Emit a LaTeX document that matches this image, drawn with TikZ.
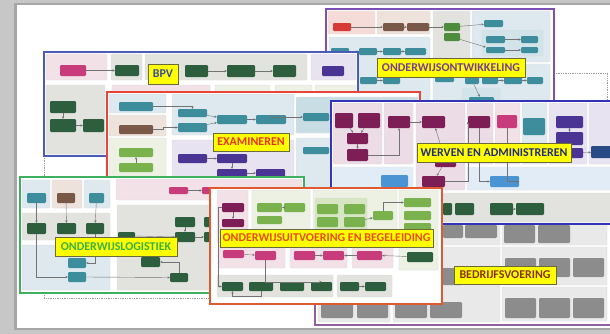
\documentclass[tikz,border=0pt]{standalone}
\usepackage{fontspec}
\newfontfamily\labfont{Carlito}
\usetikzlibrary{fit,arrows.meta}
% frame colours
\definecolor{cBPV}{HTML}{4A5CB8}
\definecolor{cONT}{HTML}{7B4FB5}
\definecolor{cEXA}{HTML}{E8443A}
\definecolor{cWER}{HTML}{3434B8}
\definecolor{cLOG}{HTML}{3FB060}
\definecolor{cUIT}{HTML}{E05A30}
\definecolor{cBED}{HTML}{9060A0}
% box colours
\definecolor{dgreen}{HTML}{2D5E3E}
\definecolor{teal}{HTML}{3D8D9C}
\definecolor{lgreen}{HTML}{7AB24E}
\definecolor{mgreen}{HTML}{4E8C3E}
\definecolor{maroon}{HTML}{7E1E56}
\definecolor{pinkb}{HTML}{C83C7C}
\definecolor{purpleb}{HTML}{4A3494}
\definecolor{brownb}{HTML}{7A5848}
\definecolor{redb}{HTML}{D63A36}
\definecolor{greyb}{HTML}{8C8C8C}
\definecolor{blueb}{HTML}{4A94D4}
\definecolor{navyb}{HTML}{2A4A86}
% panel colours
\definecolor{pblue}{HTML}{DDE9EE}
\definecolor{pblueb}{HTML}{D2E4EA}
\definecolor{pbluec}{HTML}{E2ECF6}
\definecolor{ppink}{HTML}{F3E1E8}
\definecolor{ppinkb}{HTML}{ECDCE6}
\definecolor{pred}{HTML}{F6DCD8}
\definecolor{ptan}{HTML}{EEE2DC}
\definecolor{pgreen}{HTML}{EDF1E4}
\definecolor{pgreenb}{HTML}{D6E6C2}
\definecolor{pgrey}{HTML}{E2E3DE}
\definecolor{plav}{HTML}{E8E3F0}
\definecolor{pteal}{HTML}{C9DDE4}
\definecolor{pbed}{HTML}{E9E9E9}
\definecolor{labyellow}{HTML}{FFFF00}
\definecolor{labborder}{HTML}{6A6A3A}
% label text colours
\definecolor{tBPV}{HTML}{3848A8}
\definecolor{tONT}{HTML}{7A3A9A}
\definecolor{tEXA}{HTML}{E8301C}
\definecolor{tWER}{HTML}{202A80}
\definecolor{tLOG}{HTML}{38B048}
\definecolor{tUIT}{HTML}{E84A14}
\definecolor{tBED}{HTML}{8A3010}
\newcommand{\mybox}[6]{\node[bx,fill=#2,fit={(#3,#4) (#5,#6)}] (#1) {};}
\newcommand{\mypan}[5]{\draw[pn,fill=#1] (#2,#3) rectangle (#4,#5);}
\newcommand{\mylab}[7]{\node[labbg,fit={(#3,#4) (#5,#6)}] (#1) {};
  \node[labtxt,text=#2] (#1t) at (#1.center) {#7};}
\tikzset{
  bx/.style={rounded corners=1pt,inner sep=0pt,draw=none},
  pn/.style={draw=black!14,line width=0.3pt,rounded corners=1pt},
  frm/.style={fill=white,line width=1.1pt},
  arr/.style={draw=black!55,line width=0.35pt,-{Stealth[length=2pt,width=2pt]}},
  dotline/.style={draw=black!40,line width=0.5pt,densely dotted},
  labbg/.style={fill=labyellow,draw=labborder,line width=0.5pt,inner sep=0pt},
  labtxt/.style={inner sep=0pt,font=\labfont\bfseries\fontsize{10.2}{12}\selectfont}
}
\begin{document}
\begin{tikzpicture}[x=0.03cm,y=-0.03cm]
\useasboundingbox (0,0) rectangle (610,334);
% page background
\fill[black!22] (0,0) rectangle (610,334);
\fill[black!35] (14,3) rectangle (610,330);
\fill[white] (17,5) rectangle (610,328);
% dotted outlines
\draw[dotline] (554,73) -| (607,101);
\draw[dotline] (44,156) -- (44,177);
\draw[dotline] (44,293) -- (44,298) -- (210,298);

% ================= BEDRIJFSVOERING =================
\draw[frm,draw=cBED] (315,180) rectangle (614,325);
\mypan{pbed}{440}{205}{500}{245}
\mypan{pbed}{502}{205}{607}{245}
\mybox{bd1}{greyb}{443}{225}{463}{238}
\mybox{bd2}{greyb}{465}{225}{497}{238}
\mybox{bd3}{greyb}{504}{225}{535}{243}
\mybox{bd4}{greyb}{538}{225}{570}{243}
\mypan{pbed}{502}{247}{607}{285}
\mybox{bd5}{greyb}{505}{258}{536}{277}
\mybox{bd6}{greyb}{539}{258}{570}{277}
\mybox{bd7}{greyb}{573}{258}{604}{277}
\mypan{pbed}{502}{287}{607}{321}
\mybox{bd8}{greyb}{505}{298}{536}{318}
\mybox{bd9}{greyb}{539}{298}{570}{318}
\mybox{bd10}{greyb}{573}{298}{604}{318}
\mypan{pbed}{318}{247}{390}{322}
\mypan{pbed}{393}{247}{500}{322}
\mybox{bd11}{greyb}{321}{302}{353}{318}
\mybox{bd12}{greyb}{357}{302}{388}{318}
\mybox{bd13}{greyb}{395}{302}{427}{318}
\mybox{bd14}{greyb}{430}{302}{462}{318}
\mybox{bd15}{greyb}{431}{268}{462}{285}

% ================= ONDERWIJSONTWIKKELING =================
\draw[frm,draw=cONT] (326,9) rectangle (554,130);
\mypan{pred}{328}{11}{375}{34}
\mybox{o1}{redb}{333}{23}{351}{31}
\mypan{ptan}{377}{11}{430}{34}
\mybox{o2}{brownb}{383}{23}{404}{31}
\mybox{o3}{brownb}{407}{23}{429}{31}
\mypan{pgrey}{433}{11}{470}{62}
\mybox{o4}{mgreen}{444}{23}{460}{31}
\mybox{o5}{mgreen}{444}{33}{460}{41}
\mypan{pblue}{472}{11}{550}{62}
\mybox{o6}{teal}{484}{20}{503}{27}
\mypan{pblueb}{482}{30}{543}{56}
\mybox{o7}{teal}{486}{36}{505}{43}
\mybox{o8}{teal}{521}{36}{538}{43}
\mybox{o9}{teal}{486}{47}{505}{53}
\mybox{o10}{teal}{521}{47}{538}{53}
\mypan{pblue}{329}{37}{430}{100}
\mybox{o11}{teal}{331}{48}{349}{55}
\mybox{o12}{teal}{359}{48}{377}{55}
\mybox{o13}{teal}{383}{48}{401}{55}
\mybox{o14}{teal}{405}{48}{426}{55}
\mybox{o15}{teal}{360}{77}{377}{84}
\mybox{o16}{teal}{383}{77}{400}{84}
\mypan{pblue}{433}{64}{550}{100}
\mybox{o17}{teal}{435}{75}{454}{82}
\mybox{o18}{teal}{465}{77}{479}{84}
\mybox{o19}{teal}{482}{77}{498}{84}
\mybox{o20}{teal}{504}{77}{522}{84}
\mybox{o21}{teal}{527}{77}{543}{84}
\mypan{pblueb}{462}{88}{500}{110}
\mybox{o22}{teal}{469}{97}{494}{104}
\draw[arr] (o1) -- (o2);
\draw[arr] (o2) -- (o3);
\draw[arr] (o3) -- (o4);
\draw[arr] (o4) -- (o6);
\draw[arr] (o5) -- (o9);
\draw[arr] (o7) -- (o8);
\draw[arr] (o9) -- (o10);
\draw[arr] (o11) -- (o12);
\draw[arr] (o12) -- (o13);
\draw[arr] (o13) -- (o14);
\draw[arr] (o15) -- (o16);
\draw[arr] (o19) -- (o20);
\draw[arr] (o20) -- (o21);
\draw[arr] (o18) -- (o22);

% ================= BPV =================
\draw[frm,draw=cBPV] (44,52) rectangle (358,156);
\mypan{ppink}{46}{54}{107}{80}
\mybox{b1}{pinkb}{60}{65}{86}{76}
\mypan{pgrey}{111}{54}{142}{80}
\mybox{b2}{dgreen}{115}{65}{139}{76}
\mypan{pgrey}{145}{54}{307}{80}
\mybox{b3}{dgreen}{185}{65}{208}{77}
\mybox{b4}{dgreen}{227}{65}{255}{77}
\mybox{b5}{dgreen}{273}{65}{296}{77}
\mypan{plav}{311}{54}{356}{80}
\mybox{b6}{purpleb}{322}{66}{344}{76}
\mypan{pgrey}{46}{85}{105}{154}
\mybox{b7}{dgreen}{50}{101}{76}{113}
\mybox{b8}{dgreen}{50}{119}{76}{132}
\mybox{b9}{dgreen}{83}{119}{104}{132}
\mypan{ppink}{112}{85}{210}{95}
\mypan{pgreen}{215}{85}{270}{92}
\mypan{pgreen}{275}{85}{312}{92}
\mypan{pgreen}{315}{85}{356}{92}
\draw[arr] (b1) -- (b2);
\draw[arr] (b3) -- (b4);
\draw[arr] (b4) -- (b5);
\draw[arr] (b7) -- (b8);
\draw[arr] (b8) -- (b9);

% ================= EXAMINEREN =================
\draw[frm,draw=cEXA] (107,92) rectangle (420,200);
\mypan{pblue}{109}{94}{166}{113}
\mybox{e1}{teal}{119}{102}{153}{111}
\mypan{ptan}{109}{115}{166}{136}
\mybox{e2}{brownb}{119}{125}{153}{134}
\mypan{pgreen}{109}{138}{166}{198}
\mybox{e3}{lgreen}{119}{148}{153}{157}
\mybox{e4}{lgreen}{119}{163}{153}{172}
\mypan{pblue}{172}{94}{294}{135}
\mybox{e5}{teal}{178}{109}{207}{117}
\mybox{e6}{teal}{178}{123}{207}{132}
\mybox{e7}{teal}{217}{115}{247}{124}
\mybox{e8}{teal}{256}{115}{286}{124}
\mypan{pteal}{296}{97}{418}{133}
\mybox{e9}{teal}{303}{113}{329}{121}
\mypan{plav}{172}{140}{294}{198}
\mybox{e10}{purpleb}{178}{154}{207}{163}
\mybox{e11}{purpleb}{217}{154}{247}{163}
\mybox{e12}{purpleb}{217}{169}{247}{177}
\mybox{e13}{purpleb}{256}{169}{285}{177}
\mypan{pblue}{296}{138}{330}{198}
\mybox{e14}{teal}{303}{147}{329}{154}
\draw[arr] (e1.east) -| (e5.north);
\draw[arr] (e2.east) -- ++(10,0) |- (e6.west);
\draw[arr] (e5) -- (e7);
\draw[arr] (e6) -- (e7);
\draw[arr] (e7) -- (e8);
\draw[arr] (e4) -- (e3);
\draw[arr] (e10) -- (e11);
\draw[arr] (e11) -- (e12);
\draw[arr] (e12) -- (e13);
\draw[arr] (e8.north) |- (e9.west);

% ================= WERVEN EN ADMINISTREREN =================
\draw[frm,draw=cWER] (331,101) rectangle (614,224);
\mypan{ppinkb}{333}{103}{382}{164}
\mybox{w1}{maroon}{335}{113}{353}{128}
\mybox{w2}{maroon}{358}{113}{380}{128}
\mybox{w3}{maroon}{347}{133}{368}{144}
\mybox{w4}{maroon}{347}{149}{368}{161}
\mypan{ppinkb}{384}{103}{413}{164}
\mybox{w5}{maroon}{388}{116}{410}{128}
\mypan{ppinkb}{416}{103}{465}{190}
\mybox{w6}{maroon}{422}{116}{445}{128}
\mybox{w7}{maroon}{435}{155}{456}{167}
\mybox{w8}{maroon}{422}{176}{445}{187}
\mypan{ppinkb}{467}{103}{493}{164}
\mybox{w9}{maroon}{468}{116}{490}{128}
\mypan{ppink}{495}{103}{520}{164}
\mybox{w10}{pinkb}{497}{115}{517}{128}
\mypan{pblue}{522}{103}{547}{164}
\mybox{w11}{teal}{523}{118}{545}{135}
\mypan{plav}{549}{103}{587}{164}
\mybox{w12}{purpleb}{556}{116}{583}{128}
\mybox{w13}{purpleb}{556}{132}{583}{145}
\mybox{w14}{purpleb}{556}{148}{583}{158}
\mypan{plav}{589}{103}{614}{164}
\mybox{w15}{navyb}{591}{146}{614}{158}
\mypan{pbluec}{333}{167}{413}{190}
\mybox{w16}{blueb}{381}{175}{408}{187}
\mypan{pbluec}{467}{167}{614}{190}
\mybox{w17}{blueb}{490}{176}{519}{187}
\mypan{pgrey}{420}{193}{614}{222}
\mybox{w18}{dgreen}{443}{203}{452}{215}
\mybox{w19}{dgreen}{455}{203}{474}{215}
\mybox{w20}{dgreen}{490}{203}{513}{215}
\mybox{w21}{dgreen}{516}{203}{544}{215}
\draw[arr] (w1) -- (w3);
\draw[arr] (w2) -- (w3);
\draw[arr] (w3) -- (w4);
\draw[arr] (w4.east) -| (w5.south);
\draw[arr] (w5) -- (w6);
\draw[arr] (w7) -- (w6);
\draw[arr] (w7) -- (w8);
\draw[arr] (w9.south) |- (w17.west);
\draw[arr] (w10.south) |- (w17.east);
\draw[arr] (w12) -- (w13);
\draw[arr] (w14) -- (w15);
\draw[arr] (w8.east) -| (w9.west);
\draw[arr] (w20) -- (w21);

% ================= ONDERWIJSLOGISTIEK =================
\draw[frm,draw=cLOG] (20,177) rectangle (304,293);
\mypan{pblue}{22}{180}{50}{208}
\mybox{l1}{teal}{27}{193}{46}{203}
\mypan{ptan}{52}{180}{82}{208}
\mybox{l2}{brownb}{57}{193}{75}{203}
\mypan{pblue}{84}{180}{110}{208}
\mybox{l3}{teal}{89}{193}{104}{203}
\mypan{ppink}{116}{179}{302}{200}
\mybox{l4}{pinkb}{169}{187}{188}{194}
\mybox{l5}{pinkb}{202}{187}{217}{194}
\mypan{pgrey}{22}{213}{110}{240}
\mybox{l6}{dgreen}{27}{223}{46}{234}
\mybox{l7}{dgreen}{57}{223}{76}{234}
\mybox{l8}{dgreen}{86}{223}{104}{234}
\mypan{pblue}{22}{245}{110}{290}
\mybox{l9}{teal}{68}{258}{86}{268}
\mybox{l10}{teal}{68}{272}{86}{282}
\mypan{pgrey}{117}{205}{302}{290}
\mybox{l11}{dgreen}{118}{232}{135}{240}
\mybox{l12}{dgreen}{175}{217}{195}{227}
\mybox{l13}{dgreen}{175}{232}{195}{242}
\mybox{l14}{dgreen}{141}{257}{160}{267}
\mybox{l15}{dgreen}{170}{273}{188}{282}
\mybox{l16}{dgreen}{204}{217}{214}{227}
\mybox{l17}{dgreen}{204}{232}{214}{242}
\draw[arr] (l1) -- (l6);
\draw[arr] (l2) -- (l7);
\draw[arr] (l3) -- (l8);
\draw[arr] (l4) -- (l5);
\draw[arr] (l6.south) |- (l10.west);
\draw[arr] (l8.south) |- (l9.east);
\draw[arr] (l11.east) -- (l13.west);
\draw[arr] (l12) -- (l13);
\draw[arr] (l13) -- (l17);
\draw[arr] (l10.east) -- (l15.west);
\draw[arr] (l15.north) |- (l14.east);

% ================= ONDERWIJSUITVOERING EN BEGELEIDING =================
\draw[frm,draw=cUIT] (210,188) rectangle (442,304);
\mypan{ppink}{217}{190}{248}{243}
\mybox{u1}{maroon}{222}{203}{244}{212}
\mybox{u2}{maroon}{222}{219}{244}{227}
\mypan{pgreen}{252}{190}{310}{243}
\mybox{u3}{lgreen}{257}{203}{282}{212}
\mybox{u4}{lgreen}{284}{203}{305}{212}
\mybox{u5}{lgreen}{257}{216}{282}{224}
\mypan{pgreen}{313}{190}{397}{243}
\mypan{pgreenb}{315}{198}{367}{229}
\mybox{u6}{lgreen}{317}{204}{338}{214}
\mybox{u7}{lgreen}{344}{204}{365}{214}
\mybox{u8}{lgreen}{317}{217}{338}{227}
\mybox{u9}{lgreen}{344}{217}{365}{227}
\mybox{u10}{lgreen}{373}{211}{393}{220}
\mypan{pgreen}{399}{190}{438}{270}
\mybox{u11}{lgreen}{404}{198}{431}{207}
\mybox{u12}{lgreen}{404}{211}{431}{220}
\mybox{u13}{lgreen}{404}{223}{431}{230}
\mybox{u14}{dgreen}{407}{252}{433}{262}
\mypan{ppink}{218}{245}{285}{268}
\mybox{u15}{pinkb}{223}{250}{244}{258}
\mybox{u16}{pinkb}{255}{251}{276}{260}
\mypan{ppink}{290}{245}{347}{268}
\mybox{u17}{pinkb}{294}{251}{315}{260}
\mybox{u18}{pinkb}{323}{251}{344}{260}
\mypan{ppink}{352}{245}{393}{268}
\mybox{u19}{pinkb}{357}{251}{382}{260}
\mypan{pgrey}{217}{275}{333}{297}
\mybox{u20}{dgreen}{222}{282}{243}{291}
\mybox{u21}{dgreen}{249}{282}{273}{291}
\mybox{u22}{dgreen}{280}{282}{304}{291}
\mybox{u23}{dgreen}{311}{282}{332}{291}
\mypan{pgrey}{337}{275}{392}{297}
\mybox{u24}{dgreen}{340}{282}{359}{291}
\mybox{u25}{dgreen}{365}{282}{386}{291}
\draw[arr] (u1) -- (u2);
\draw[arr] (u4) -- (u3);
\draw[arr] (u9) -- (u10);
\draw[arr] (u10.north) |- (u11.west);
\draw[arr] (u15) -- (u16);
\draw[arr] (u17) -- (u18);
\draw[arr] (u19) -- (u18);
\draw[arr] (u14) -- (u19.east);
\draw[arr] (u1.west) -- ++(-4,0) |- (u20.west);
\draw[arr] (u16.south) |- (u23.north);
\draw[arr] (u24) -- (u25);
\draw[arr] (u21.south) -- ++(0,5) -| (u20.south);

% ================= yellow labels =================
\mylab{lbpv}{tBPV}{148}{64}{178}{84}{BPV}
\mylab{lont}{tONT}{377}{58}{525}{77}{ONDERWIJSONTWIKKELING}
\mylab{lexa}{tEXA}{213}{133}{289}{151}{EXAMINEREN}
\mylab{lwer}{tWER}{417}{143}{571}{162}{WERVEN EN ADMINISTREREN}
\mylab{llog}{tLOG}{55}{237}{177}{256}{ONDERWIJSLOGISTIEK}
\mylab{luit}{tUIT}{220}{229}{433}{247}{ONDERWIJSUITVOERING EN BEGELEIDING}
\mylab{lbed}{tBED}{454}{266}{556}{284}{BEDRIJFSVOERING}
\end{tikzpicture}
\end{document}
